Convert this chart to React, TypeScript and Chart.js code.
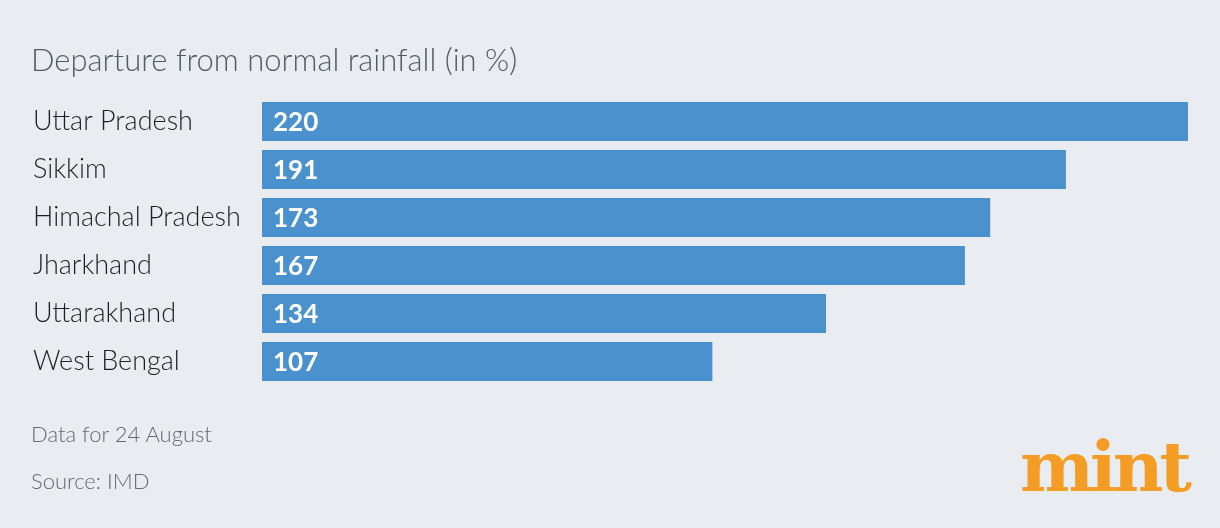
import React, { useRef, useEffect } from 'react';
import { Chart, registerables } from 'chart.js';

Chart.register(...registerables);

const states = ['Uttar Pradesh', 'Sikkim', 'Himachal Pradesh', 'Jharkhand', 'Uttarakhand', 'West Bengal'];
const departure = [220, 191, 173, 167, 134, 107];

const BG = '#e9ecf1';
const BAR = '#4a91ce';
const FONT = 'Lato, "Noto Sans", sans-serif';

const valueLabels = {
  id: 'valueLabels',
  afterDatasetsDraw(chart: any) {
    const ctx = chart.ctx;
    const meta = chart.getDatasetMeta(0);
    ctx.save();
    ctx.fillStyle = '#ffffff';
    ctx.font = `bold 26px ${FONT}`;
    ctx.textAlign = 'left';
    ctx.textBaseline = 'middle';
    meta.data.forEach((bar: any, i: number) => {
      ctx.fillText(String(departure[i]), bar.base + 11, bar.y + 1);
    });
    ctx.restore();
  },
};

const RainChart: React.FC = () => {
  const chartRef = useRef<HTMLCanvasElement>(null);
  const chartInstanceRef = useRef<Chart | null>(null);

  useEffect(() => {
    document.body.style.margin = '0';
    if (chartRef.current) {
      if (chartInstanceRef.current) {
        chartInstanceRef.current.destroy();
      }
      const ctx = chartRef.current.getContext('2d');
      if (ctx) {
        chartInstanceRef.current = new Chart(ctx, {
          type: 'bar',
          data: {
            labels: states,
            datasets: [
              {
                data: departure,
                backgroundColor: BAR,
                borderWidth: 0,
                barPercentage: 0.81,
                categoryPercentage: 1,
              },
            ],
          },
          options: {
            indexAxis: 'y',
            animation: false,
            responsive: false,
            maintainAspectRatio: false,
            layout: { padding: { left: 33, right: 32, top: 97.5, bottom: 142.5 } },
            plugins: {
              legend: { display: false },
              tooltip: { enabled: false },
            },
            scales: {
              x: { display: false, min: 0, max: 220 },
              y: {
                grid: { display: false },
                border: { display: false },
                ticks: {
                  crossAlign: 'far',
                  color: '#1f1f1f',
                  font: { family: FONT, size: 27, weight: '300' },
                  padding: 0,
                },
                afterFit: (scale: any) => {
                  scale.width = 229;
                },
              },
            },
          },
          plugins: [valueLabels],
        });
      }
    }
    return () => {
      if (chartInstanceRef.current) {
        chartInstanceRef.current.destroy();
        chartInstanceRef.current = null;
      }
    };
  }, []);

  return (
    <div style={{ position: 'relative', width: 1220, height: 528, background: BG, fontFamily: FONT, overflow: 'hidden' }}>
      <canvas ref={chartRef} width={1220} height={528} style={{ position: 'absolute', left: 0, top: 0 }} />
      <div style={{ position: 'absolute', left: 31, top: 40, fontSize: 31, color: '#555a60', fontWeight: 300, whiteSpace: 'nowrap' }}>
        Departure from normal rainfall (in %)
      </div>
      <div style={{ position: 'absolute', left: 31, top: 420, fontSize: 22, color: '#666a70', fontWeight: 300, whiteSpace: 'nowrap' }}>
        Data for 24 August
      </div>
      <div style={{ position: 'absolute', left: 31, top: 467, fontSize: 22, color: '#666a70', fontWeight: 300, whiteSpace: 'nowrap' }}>
        Source: IMD
      </div>
      <div
        style={{
          position: 'absolute',
          left: 1020,
          top: 422,
          fontFamily: '"DejaVu Serif", serif',
          fontWeight: 'bold',
          fontSize: 70,
          letterSpacing: -4,
          color: '#f59c24',
          lineHeight: '90px',
          whiteSpace: 'nowrap',
        }}
      >
        mint
      </div>
    </div>
  );
};

export default function App() {
  return <RainChart />;
}
